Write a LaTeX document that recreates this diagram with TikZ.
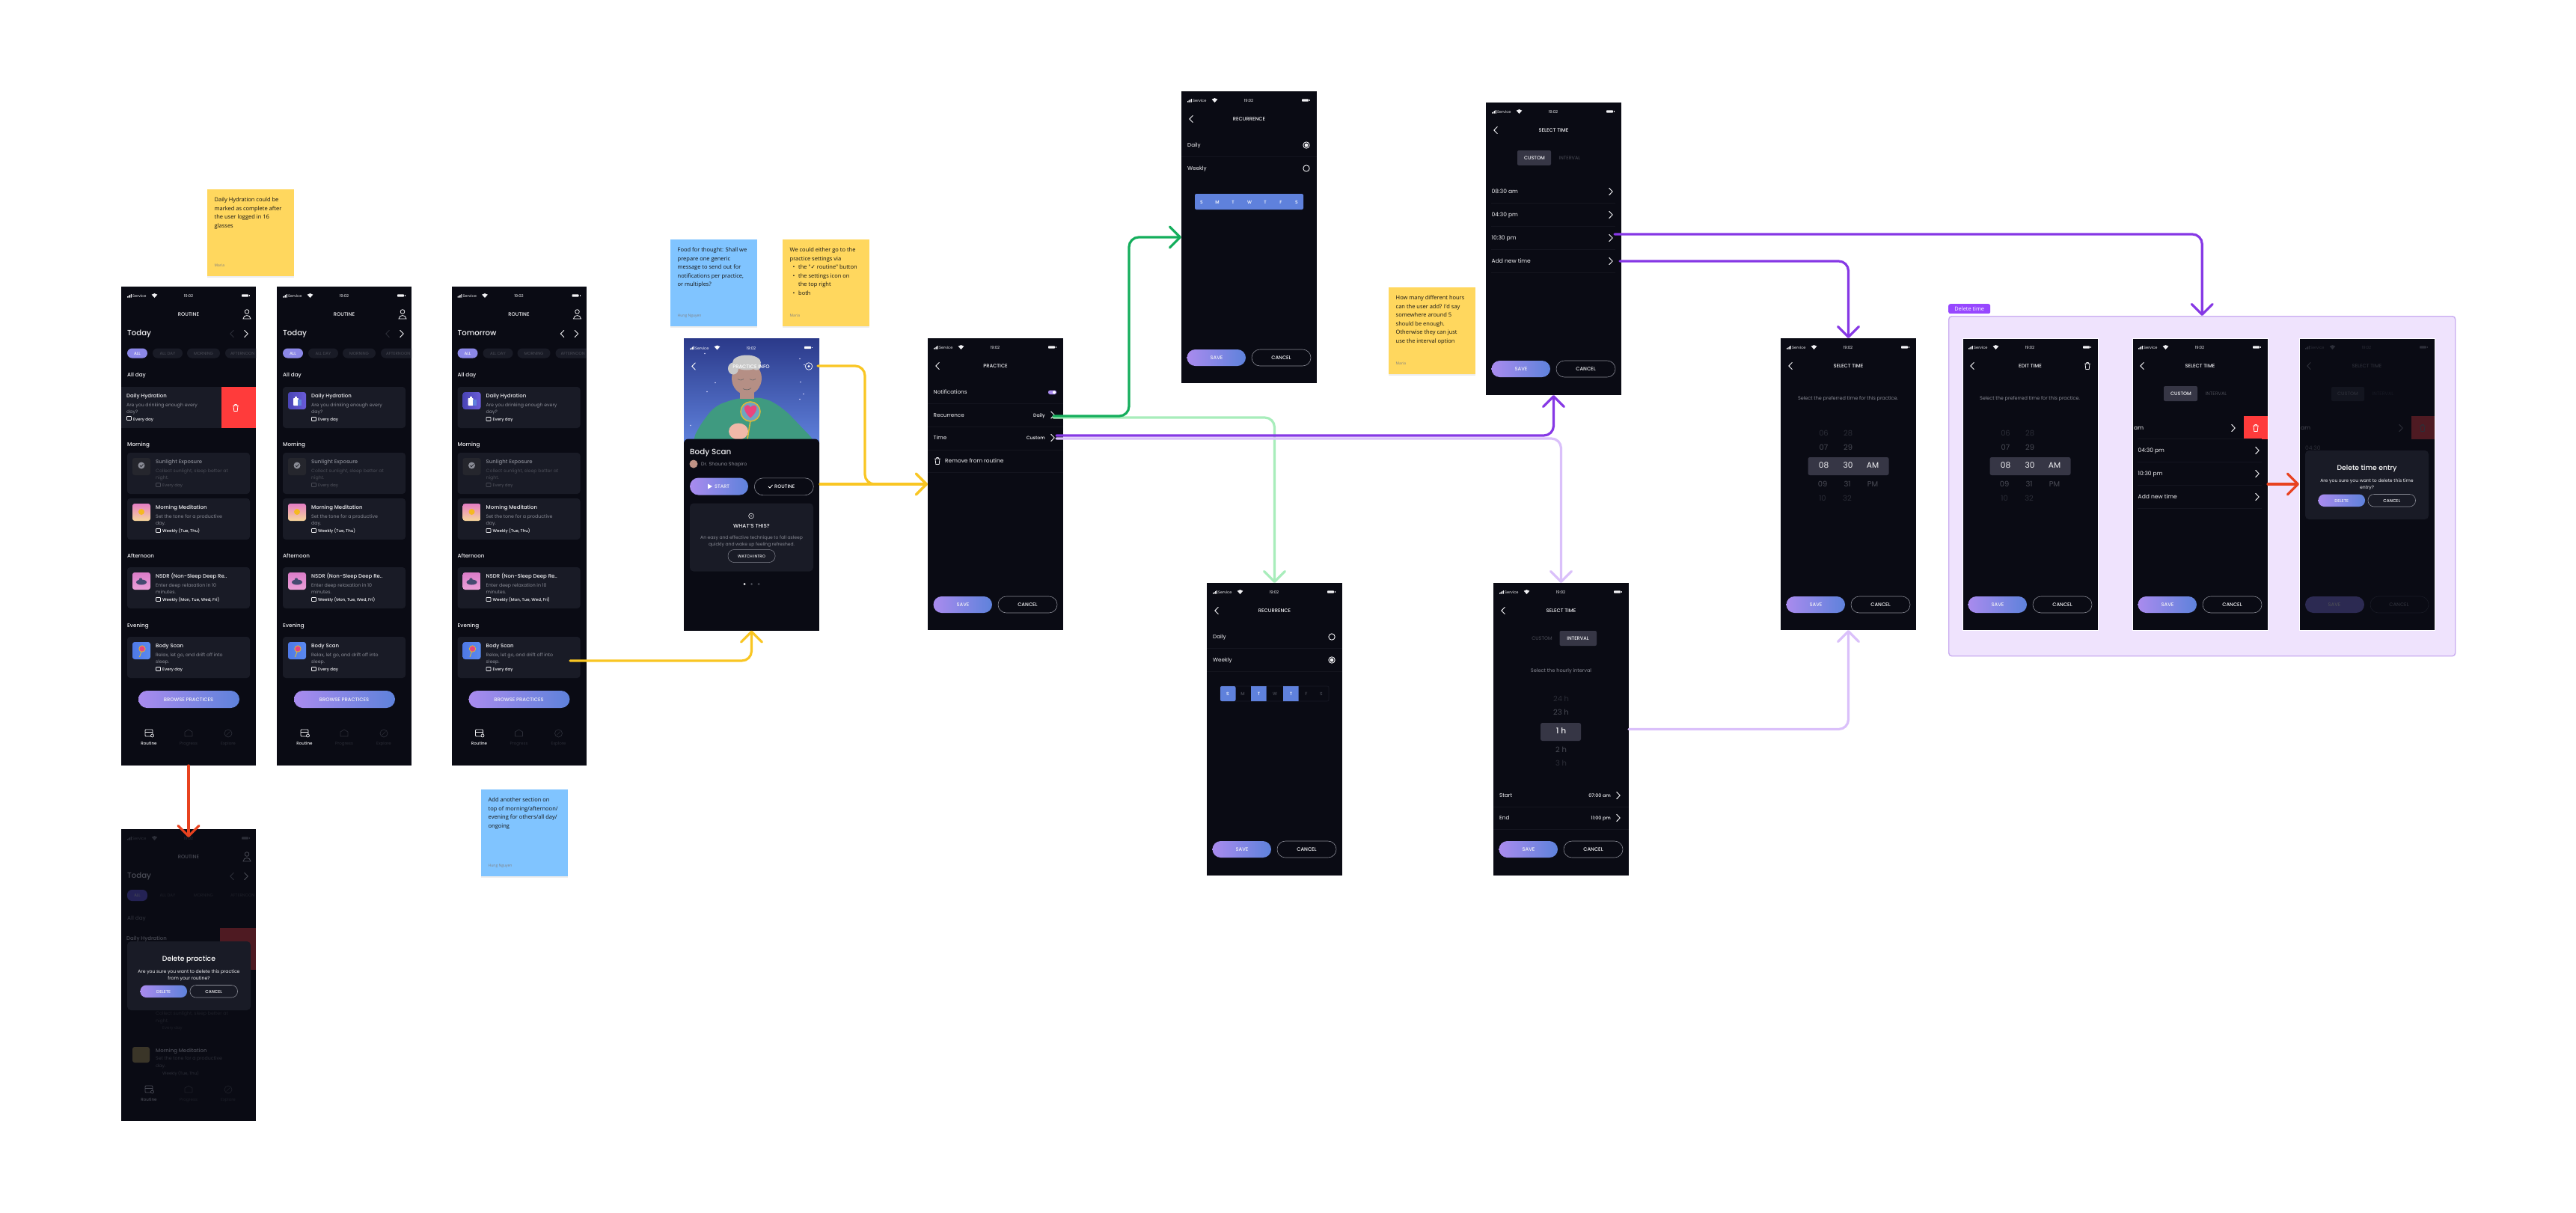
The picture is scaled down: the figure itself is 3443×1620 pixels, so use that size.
\documentclass[tikz,border=0pt]{standalone}
\usepackage{fontspec}
\setmainfont{Poppins}[BoldFont={Poppins Medium}]
\newfontfamily\notefont{Open Sans}
\newfontfamily\symfont{DejaVu Sans}
\usetikzlibrary{arrows.meta}
\definecolor{phonebg}{HTML}{0A0B14}
\definecolor{cardc}{HTML}{191B26}
\definecolor{tabc}{HTML}{363645}
\definecolor{txtw}{HTML}{F2F2F5}
\definecolor{txtg}{HTML}{8A8C96}
\definecolor{txtd}{HTML}{4A4C56}
\definecolor{txtx}{HTML}{2C2E38}
\definecolor{txty}{HTML}{1E2029}
\definecolor{divc}{HTML}{14151F}
\definecolor{gradl}{HTML}{A98BEE}
\definecolor{gradr}{HTML}{5E82DB}
\definecolor{redc}{HTML}{FF3B3B}
\definecolor{dimred}{HTML}{4E1A22}
\definecolor{stickyy}{HTML}{FFD75E}
\definecolor{stickyb}{HTML}{80C4FF}
\definecolor{strip}{HTML}{5F81DC}
\definecolor{groupf}{HTML}{EFE3FD}
\definecolor{groupb}{HTML}{C9ACF0}
\definecolor{tagc}{HTML}{9747FF}
\definecolor{cyellow}{HTML}{F9C623}
\definecolor{cred}{HTML}{E8421F}
\definecolor{cgreen}{HTML}{14AE5C}
\definecolor{clgreen}{HTML}{A8EDBB}
\definecolor{cpurple}{HTML}{8638E5}
\definecolor{clpurple}{HTML}{DAC0FA}
\definecolor{skytop}{HTML}{2B3A8A}
\definecolor{skin}{HTML}{B58F85}
\definecolor{hair}{HTML}{C9C9C9}
\definecolor{shirt}{HTML}{3F9A80}
\definecolor{handc}{HTML}{F0B8A8}
\definecolor{ringc}{HTML}{D8B93A}
\definecolor{lensc}{HTML}{6EA5C0}
\definecolor{heartc}{HTML}{E8457F}
\definecolor{hydl}{HTML}{4A45B5}
\definecolor{hydr}{HTML}{6A5CD8}
\definecolor{sunbg}{HTML}{25262D}
\definecolor{medt}{HTML}{E57EC3}
\definecolor{medb}{HTML}{F7D79A}
\definecolor{medsun}{HTML}{F5B921}
\definecolor{nst}{HTML}{DB7CC8}
\definecolor{nsb}{HTML}{EAA0D8}
\definecolor{nsl}{HTML}{454A70}
\definecolor{bol}{HTML}{4E79E6}
\definecolor{bor}{HTML}{5B8AF0}
\definecolor{dimmed}{HTML}{3A3528}
\definecolor{dimsave}{HTML}{2C2A52}
\newcounter{nid}
\newcommand\Tx[6]{\stepcounter{nid}\pgfmathparse{#4<7?#4*1.2:#4*1.08}\edef\fsz{\pgfmathresult}\node[anchor=#1,inner sep=0pt,text=#5,font=\fontsize{\fsz}{\fsz}\selectfont] (t\thenid) at (#2,#3) {#6};}
\newcommand\chevR[3]{\draw[#3,line width=1pt,line cap=round,line join=round] (#1-2.2,#2-4.5)--(#1+2.2,#2)--(#1-2.2,#2+4.5);}
\newcommand\chevL[3]{\draw[#3,line width=1pt,line cap=round,line join=round] (#1+2.2,#2-4.5)--(#1-2.2,#2)--(#1+2.2,#2+4.5);}
\newcommand\trashI[3]{\draw[#3,line width=.8pt,line join=round] (#1-3.6,#2-3)--(#1+3.6,#2-3) (#1-1.5,#2-3)--(#1-1.2,#2-4.6)--(#1+1.2,#2-4.6)--(#1+1.5,#2-3) (#1-3,#2-3)--(#1-2.2,#2+4.5)--(#1+2.2,#2+4.5)--(#1+3,#2-3);}
\newcommand\statusB[1]{%
 \fill[#1] (8,14.5) rectangle (9,13) (9.6,14.5) rectangle (10.6,12) (11.2,14.5) rectangle (12.2,11) (12.8,14.5) rectangle (13.8,10);
 \Tx{mid west}{15}{12}{4.2}{#1}{Service}
 \fill[#1] (44.5,15)--(40.7,10.7) .. controls (43,8.6) and (46,8.6) .. (48.3,10.7) --cycle;
 \Tx{mid}{90}{12}{4.4}{#1}{19:02}
 \fill[#1,rounded corners=.8pt] (161,10.3) rectangle (170,13.7);
 \fill[#1] (171,11.3) rectangle (171.6,12.7);}
\newcommand\saveB{%
 \shade[left color=gradl,right color=gradr,rounded corners=11pt] (7.5,345) rectangle (86,367);
 \Tx{mid}{47}{356}{5.6}{txtw}{\bfseries SAVE}
 \draw[txtg,line width=.6pt,rounded corners=11pt] (94,345) rectangle (173,367);
 \Tx{mid}{133.5}{356}{5.6}{txtw}{\bfseries CANCEL}}
\newcommand\phoneN[5]{\node[fill=phonebg,inner sep=0pt,outer sep=0pt,minimum width=#3,minimum height=#4,anchor=north west,#5] (#1) at (#2) {};}
\newcommand\navB[5]{% y icon, y label, c1, c2, unused
 \draw[#3,line width=.8pt,rounded corners=1pt] (32,#1-5) rectangle (42,#1+4);
 \draw[#3,line width=.8pt] (32,#1-2)--(42,#1-2);
 \draw[#3,fill=phonebg,line width=.7pt] (41.5,#1+3) circle[radius=2];
 \Tx{mid}{37}{#2}{4.6}{#3}{\bfseries Routine}
 \draw[#4,line width=.7pt,line join=round] (90,#1-5)--(95,#1-2)--(95,#1+4)--(85,#1+4)--(85,#1-2)--cycle;
 \Tx{mid}{90}{#2}{4.6}{#4}{Progress}
 \draw[#4,line width=.7pt] (143,#1) circle[radius=5];
 \draw[#4,line width=.6pt] (140.5,#1+2.5)--(145.5,#1-2.5);
 \Tx{mid}{143}{#2}{4.6}{#4}{Explore}}
\newcommand\personI[1]{\draw[#1,line width=.8pt] (168,33.5) circle[radius=2.8] (163,43) .. controls (163.5,37) and (172.5,37) .. (173,43) -- cycle;}
\newcommand\iconHyd[1]{\shade[left color=hydl,right color=hydr,rounded corners=3pt] (15,#1) rectangle (39,#1+23);
 \fill[white,rounded corners=.8pt] (22,#1+8) rectangle (29,#1+18); \fill[white] (24,#1+6) rectangle (27,#1+8); \fill[strip] (28,#1+10) rectangle (33,#1+18);}
\newcommand\iconSun[1]{\fill[sunbg,rounded corners=3pt] (15,#1) rectangle (39,#1+23);
 \fill[txtg] (27,#1+10) circle[radius=4.5]; \draw[sunbg,line width=.8pt] (25,#1+10)--(26.6,#1+11.6)--(29.5,#1+8.5);}
\newcommand\iconMed[1]{\shade[top color=medt,bottom color=medb,rounded corners=3pt] (15,#1) rectangle (39,#1+23);
 \fill[medsun] (27,#1+11) circle[radius=4];}
\newcommand\iconNs[1]{\shade[top color=nst,bottom color=nsb,rounded corners=3pt] (15,#1) rectangle (39,#1+23);
 \fill[nsl] (27,#1+13) ellipse[x radius=7,y radius=3.5]; \fill[nsl] (26,#1+9.5) circle[radius=2.2];}
\newcommand\iconBody[1]{\shade[left color=bol,right color=bor,rounded corners=3pt] (15,#1) rectangle (39,#1+23);
 \draw[ringc,line width=1pt] (24.5,#1+20)--(27,#1+13); \fill[heartc] (28,#1+9) circle[radius=4.2]; \draw[ringc,line width=.8pt] (28,#1+9) circle[radius=4.2];}
\newcommand\cardR[9]{% ytop, icon, tc, title, desc1, desc2, date, dc, datec
 \fill[cardc,rounded corners=4pt] (8,#1) rectangle (172,#1+55);
 #2{#1+7}
 \Tx{mid west}{46}{#1+12}{5.8}{#3}{\bfseries #4}
 \Tx{mid west}{46}{#1+24}{5.2}{#8}{#5}
 \Tx{mid west}{46}{#1+33}{5.2}{#8}{#6}
 \draw[#9,line width=.6pt,rounded corners=.6pt] (46.5,#1+40.5) rectangle (52.5,#1+45.5);
 \Tx{mid west}{55}{#1+43}{4.6}{#9}{\bfseries #7}}
\newcommand\routineTop[3]{% day, left chevron color, first card code
 \statusB{txtw}
 \Tx{mid}{90}{37}{5.6}{txtw}{\bfseries ROUTINE}
 \personI{txtw}
 \Tx{mid west}{8}{63}{9.4}{txtw}{\bfseries #1}
 \chevL{148}{63}{#2}
 \chevR{167}{63}{txtw}
 \fill[gradl!60!gradr,rounded corners=6.5pt] (8,82.5) rectangle (35,95.5);
 \Tx{mid}{21.5}{89}{4.6}{txtw}{\bfseries ALL}
 \fill[cardc,rounded corners=6.5pt] (42,82.5) rectangle (82,95.5);
 \Tx{mid}{62}{89}{4.6}{txtd}{ALL DAY}
 \fill[cardc,rounded corners=6.5pt] (88,82.5) rectangle (132,95.5);
 \Tx{mid}{110}{89}{4.6}{txtd}{MORNING}
 \begin{scope}\clip (0,0) rectangle (180,640);
 \fill[cardc,rounded corners=6.5pt] (139,82.5) rectangle (200,95.5);
 \Tx{mid west}{146}{89}{4.6}{txtd}{AFTERNOON}
 \end{scope}
 \Tx{mid west}{8}{118}{6}{txtw}{\bfseries All day}
 #3
 \Tx{mid west}{8}{211}{6}{txtw}{\bfseries Morning}
 \cardR{222}{\iconSun}{txtg}{Sunlight Exposure}{Collect sunlight, sleep better at}{night.}{Every day}{txtd}{txtd}
 \cardR{283}{\iconMed}{txtw}{Morning Meditation}{Set the tone for a productive}{day.}{Weekly (Tue, Thu)}{txtg}{txtw}
 \Tx{mid west}{8}{360}{6}{txtw}{\bfseries Afternoon}
 \cardR{375}{\iconNs}{txtw}{NSDR (Non-Sleep Deep Re..}{Enter deep relaxation in 10}{minutes.}{Weekly (Mon, Tue, Wed, Fri)}{txtg}{txtw}
 \Tx{mid west}{8}{452.5}{6}{txtw}{\bfseries Evening}
 \cardR{468}{\iconBody}{txtw}{Body Scan}{Relax, let go, and drift off into}{sleep.}{Every day}{txtg}{txtw}
 \shade[left color=gradl,right color=gradr,rounded corners=11.5pt] (23,540) rectangle (158,563);
 \Tx{mid}{90}{551.5}{5.6}{txtw}{\bfseries BROWSE PRACTICES}
 \navB{597}{610}{txtw}{txtx}{}}
\newcommand\sticky[6]{% name, x, y, color, text, author
 \fill[black!7] (#2,#3+2) rectangle (#2+116,#3+118);
 \node[fill=#4,inner sep=0pt,outer sep=0pt,minimum size=115.5pt,anchor=north west] (#1) at (#2,#3) {};
 \stepcounter{nid}\node[anchor=north west,inner sep=0pt,align=left,text=black!92,font=\notefont\fontsize{7.5}{11.6}\selectfont] (t\thenid) at (#2+9.5,#3+10.5) {#5};
 \stepcounter{nid}\node[anchor=mid west,inner sep=0pt,text=black!50,font=\notefont\fontsize{5}{5}\selectfont] (t\thenid) at (#2+9.5,#3+101) {#6};}
\newcommand\timelist[4]{% row1 x code ..
 #1
 \Tx{mid west}{7.5}{150}{6.3}{txtw}{04:30 pm}\chevR{167}{150}{txtw}
 \Tx{mid west}{7.5}{181}{6.3}{txtw}{10:30 pm}\chevR{167}{181}{txtw}
 \Tx{mid west}{7.5}{212}{6.3}{txtw}{Add new time}\chevR{167}{212}{txtw}
 \draw[divc,line width=.8pt] (7,134.5)--(173,134.5) (7,165.5)--(173,165.5) (7,196.5)--(173,196.5) (7,227.5)--(173,227.5);}
\newcommand\customtab{\fill[tabc,rounded corners=2pt] (42,64) rectangle (87,84);
 \Tx{mid}{65}{74}{5.4}{txtw}{\bfseries CUSTOM}
 \Tx{mid}{112}{74}{5.4}{txtd}{INTERVAL}}
\newcommand\wheelW{%
 \Tx{mid}{90}{80}{5.4}{txtg}{Select the preferred time for this practice.}
 \Tx{mid}{57.5}{128}{9.2}{txtx}{06}\Tx{mid}{90}{128}{9.2}{txtx}{28}
 \Tx{mid}{57.5}{147}{9.2}{txtd}{07}\Tx{mid}{90}{147}{9.2}{txtd}{29}
 \fill[tabc,rounded corners=2.5pt] (36.5,159) rectangle (144.5,183);
 \Tx{mid}{57.5}{171}{9.8}{txtw}{08}\Tx{mid}{90}{171}{9.8}{txtw}{30}\Tx{mid}{123}{171}{9.8}{txtw}{AM}
 \Tx{mid}{56}{196}{9.2}{txtd}{09}\Tx{mid}{89}{196}{9.2}{txtd}{31}\Tx{mid}{123}{196}{9.2}{txtd}{PM}
 \Tx{mid}{56}{215}{9.2}{txtx}{10}\Tx{mid}{89}{215}{9.2}{txtx}{32}}
\newcommand\dialogD[3]{% title, line1, line2
 \fill[cardc,rounded corners=5pt] (8,150) rectangle (173,242);
 \Tx{mid}{90.5}{173.5}{8.6}{white}{\bfseries #1}
 \Tx{mid}{90.5}{190}{5.1}{txtw}{#2}
 \Tx{mid}{90.5}{198.5}{5.1}{txtw}{#3}
 \shade[left color=gradl,right color=gradr,rounded corners=8pt] (25.5,208.5) rectangle (88,225);
 \Tx{mid}{56.7}{217}{4.8}{txtw}{\bfseries DELETE}
 \draw[txtg,line width=.6pt,rounded corners=8pt] (92,208.5) rectangle (155.5,225);
 \Tx{mid}{123.7}{217}{4.8}{txtw}{\bfseries CANCEL}}
\begin{document}
\begin{tikzpicture}[x=1pt,y=-1pt,
 conn/.style={line width=3.2pt,line cap=round,rounded corners=13pt,-{Straight Barb[length=14pt,width=28pt,round]}}]
\useasboundingbox (0,0) rectangle (3443,1620);
\fill[white] (0,0) rectangle (3443,1620);
% group frame
\node[fill=groupf,draw=groupb,line width=1.4pt,rounded corners=4pt,inner sep=0pt,minimum width=677,minimum height=454,anchor=north west] (group) at (2604,422) {};
\node[fill=tagc,rounded corners=2.5pt,inner sep=0pt,minimum width=56,minimum height=13,anchor=north west,text=white,font=\notefont\fontsize{7.4}{8}\selectfont] (grouptag) at (2604,406) {Delete time};
% stickies
\sticky{noteA}{277}{253}{stickyy}{Daily Hydration could be\\marked as complete after\\the user logged in 16\\glasses}{Maria}
\sticky{noteB}{643}{1055}{stickyb}{Add another section on\\top of morning/afternoon/\\evening for others/all day/\\ongoing}{Hung Nguyen}
\sticky{noteC}{896}{320}{stickyb}{Food for thought: Shall we\\prepare one generic\\message to send out for\\notifications per practice,\\or multiples?}{Hung Nguyen}
\sticky{noteD}{1046}{320}{stickyy}{We could either go to the\\practice settings via\\\makebox[11.5pt][l]{\hspace{4pt}•}the "{\symfont ✓} routine" button\\\makebox[11.5pt][l]{\hspace{4pt}•}the settings icon on\\\makebox[11.5pt][l]{}the top right\\\makebox[11.5pt][l]{\hspace{4pt}•}both}{Maria}
\sticky{noteE}{1856}{384}{stickyy}{How many different hours\\can the user add? I'd say\\somewhere around 5\\should be enough.\\Otherwise they can just\\use the interval option}{Maria}
% routine 1
\phoneN{rA}{162,383}{180}{640}{}
\begin{scope}[shift={(162,383)}]
\routineTop{Today}{txtx}{%
 \fill[cardc] (0,134) rectangle (134,189);
 \fill[redc] (134,134) rectangle (180,189);
 \fill[cardc,rounded corners=4pt] (125,134) rectangle (133,189);
 \Tx{mid west}{7}{146}{5.8}{txtw}{\bfseries Daily Hydration}
 \Tx{mid west}{7}{158}{5.2}{txtg}{Are you drinking enough every}
 \Tx{mid west}{7}{167}{5.2}{txtg}{day?}
 \draw[txtw,line width=.6pt,rounded corners=.6pt] (7.5,173.5) rectangle (13.5,178.5);
 \Tx{mid west}{16}{176.5}{4.6}{txtw}{\bfseries Every day}
 \trashI{153}{162}{white}}
\end{scope}
% routine 2
\phoneN{rB}{370,383}{180}{640}{}
\begin{scope}[shift={(370,383)}]
\routineTop{Today}{txtx}{\cardR{134}{\iconHyd}{txtw}{Daily Hydration}{Are you drinking enough every}{day?}{Every day}{txtg}{txtw}}
\end{scope}
% routine 3
\phoneN{rC}{603.5,383}{180}{640}{}
\begin{scope}[shift={(603.5,383)}]
\routineTop{Tomorrow}{txtw}{\cardR{134}{\iconHyd}{txtw}{Daily Hydration}{Are you drinking enough every}{day?}{Every day}{txtg}{txtw}}
\end{scope}
\coordinate (rcOut) at (762,883);
% delete practice
\phoneN{rD}{162,1108}{180}{390}{}
\begin{scope}[shift={(162,1108)}]
 \statusB{txtx}
 \Tx{mid}{90}{37}{5.6}{txtd}{\bfseries ROUTINE}
 \personI{txtd}
 \Tx{mid west}{8}{63}{9.4}{txtd}{\bfseries Today}
 \chevL{148}{63}{txtx}\chevR{167}{63}{txtd}
 \fill[hydl!40!phonebg,rounded corners=6.5pt] (8,81) rectangle (35,96);
 \Tx{mid}{21.5}{88}{4.6}{txtd}{ALL}
 \Tx{mid}{62}{88}{4.6}{txty}{ALL DAY}
 \Tx{mid}{110}{88}{4.6}{txty}{MORNING}
 \begin{scope}\clip (0,0) rectangle (180,390);
 \Tx{mid west}{146}{88}{4.6}{txty}{AFTERNOON}
 \end{scope}
 \Tx{mid west}{8}{119}{6}{txtx}{\bfseries All day}
 \fill[dimred] (132,132) rectangle (180,188);
 \Tx{mid west}{7}{146}{5.8}{txtd}{\bfseries Daily Hydration}
 \Tx{mid west}{46}{246}{5.2}{txty}{Collect sunlight, sleep better at}
 \Tx{mid west}{46}{256}{5.2}{txty}{night.}
 \Tx{mid west}{55}{265}{4.6}{txty}{Every day}
 \fill[dimmed,rounded corners=3pt] (15,291) rectangle (38,312);
 \Tx{mid west}{46}{296}{5.8}{txtd}{\bfseries Morning Meditation}
 \Tx{mid west}{46}{306}{5.2}{txtx}{Set the tone for a productive}
 \Tx{mid west}{46}{316}{5.2}{txtx}{day.}
 \Tx{mid west}{55}{326}{4.6}{txtx}{Weekly (Tue, Thu)}
 \navB{348}{361}{txtd}{txty}{}
 \dialogD{Delete practice}{Are you sure you want to delete this practice}{from your routine?}
\end{scope}
% body scan
\phoneN{pI}{914,452.5}{181}{390}{}
\begin{scope}[shift={(914,452.5)}]
 \begin{scope}
 \clip (0,0) rectangle (181,140);
 \shade[top color=skytop,bottom color=strip] (0,0) rectangle (181,140);
 \foreach \sx/\sy in {28/20,42/59,31/71,9/116,161/35,160/74,155/81,155/27,156/58}{\fill[white!85!blue] (\sx,\sy) circle[radius=.9];}
 \fill[shirt,rounded corners=12pt] (10,140)--(20,118)--(41,90)--(73,79)--(109,79)--(134,94)--(178,140)--cycle;
 \fill[skin] (75,65) rectangle (94,80);
 \fill[skin] (84,53) ellipse[x radius=20,y radius=22];
 \fill[hair] (84,32) ellipse[x radius=19,y radius=10] (66,40) ellipse[x radius=7,y radius=8] (97,36) ellipse[x radius=6,y radius=6];
 \draw[black!60,line width=.6pt] (72,54) .. controls (75,56) and (78,56) .. (80,54) (88,54) .. controls (91,56) and (94,56) .. (96,54) (79,67) .. controls (83,69) and (87,69) .. (90,66);
 \draw[ringc,line width=1.6pt] (89,110)--(85,134);
 \fill[handc] (73,124) ellipse[x radius=13,y radius=11];
 \fill[lensc] (89,97.5) circle[radius=13];
 \draw[ringc,line width=1.6pt] (89,97.5) circle[radius=13];
 \fill[heartc] (89,106) .. controls (80,98) and (79,90) .. (84,89) .. controls (87,88) and (89,91) .. (89,92) .. controls (90,90) and (94,88) .. (96,90) .. controls (99,92) and (97,99) .. (89,106) --cycle;
 \end{scope}
 \statusB{white}
 \chevL{13}{37}{white}
 \Tx{mid}{90}{37}{5.6}{white}{\bfseries PRACTICE INFO}
 \draw[white,line width=.7pt] (167,37) circle[radius=4.8];
 \fill[white] (167,37) circle[radius=1.6];
 \fill[phonebg,rounded corners=6pt] (0,134) rectangle (181,200);
 \fill[phonebg] (0,145) rectangle (181,390);
 \Tx{mid west}{8}{152}{9.6}{txtw}{\bfseries Body Scan}
 \fill[handc!80!black] (13,167.5) circle[radius=5.5];
 \Tx{mid west}{23}{167.5}{5.3}{txtg}{Dr. Shauna Shapiro}
 \shade[left color=gradl,right color=gradr,rounded corners=11.5pt] (8,186) rectangle (86,209);
 \fill[white] (32,194)--(38,197.5)--(32,201)--cycle;
 \Tx{mid west}{41}{197.5}{5.4}{txtw}{\bfseries START}
 \node[draw=txtg,line width=.6pt,rounded corners=11.5pt,inner sep=0pt,minimum width=79,minimum height=23,anchor=north west] (routinebtn) at (94,186) {};
 \draw[white,line width=.8pt] (113,197.5)--(115,199.5)--(118.5,195.5);
 \Tx{mid west}{121}{197.5}{5.4}{txtw}{\bfseries ROUTINE}
 \fill[cardc,rounded corners=5pt] (8,220) rectangle (173,311);
 \draw[txtw,line width=.6pt] (90,237) circle[radius=3.4]; \fill[txtw] (90,237) circle[radius=.9];
 \Tx{mid}{90.5}{250}{6}{txtw}{\bfseries WHAT'S THIS?}
 \Tx{mid}{90.5}{265}{5}{txtg}{An easy and effective technique to fall asleep}
 \Tx{mid}{90.5}{274}{5}{txtg}{quickly and wake up feeling refreshed.}
 \draw[txtg,line width=.5pt,rounded corners=8pt] (59,282) rectangle (122,299);
 \Tx{mid}{90.5}{290.5}{4.4}{txtw}{\bfseries WATCH INTRO}
 \fill[white] (81,328) circle[radius=1.5];
 \fill[txtd] (90.5,328) circle[radius=1.5] (100,328) circle[radius=1.5];
\end{scope}
\coordinate (gearOut) at (1093,489);
\coordinate (gearMid) at (1156,570);
% practice
\phoneN{pS}{1240,452}{181}{390}{}
\begin{scope}[shift={(1240,452)}]
 \statusB{txtw}\chevL{13}{37}{txtw}
 \Tx{mid}{90.5}{37}{5.6}{txtw}{\bfseries PRACTICE}
 \Tx{mid west}{7.5}{72}{6}{txtw}{Notifications}
 \fill[gradl,rounded corners=2.5pt] (161,69.5) rectangle (172,75); \fill[white] (169,72.2) circle[radius=2];
 \Tx{mid west}{7.5}{102.5}{6}{txtw}{Recurrence}
 \Tx{mid east}{157}{102.5}{5.2}{txtw}{\bfseries Daily}\chevR{167}{102.5}{txtw}
 \Tx{mid west}{7.5}{133}{6}{txtw}{Time}
 \Tx{mid east}{157}{133}{5.2}{txtw}{\bfseries Custom}\chevR{167}{133}{txtw}
 \trashI{13}{164}{txtw}
 \Tx{mid west}{23}{164}{6.2}{txtw}{Remove from routine}
 \draw[divc,line width=.8pt] (0,87.5)--(181,87.5) (0,118)--(181,118) (0,149)--(181,149) (0,179.5)--(181,179.5);
 \saveB
\end{scope}
\coordinate (dailyOut) at (1408,556);
\coordinate (dailyOutB) at (1408,558);
\coordinate (dailyMid) at (1509,440);
\coordinate (timeOut) at (1412,582);
\coordinate (timeOutB) at (1412,586);
% recurrence A
\phoneN{recA}{1579,122}{181}{390}{}
\begin{scope}[shift={(1579,122)}]
 \statusB{txtw}\chevL{13}{37}{txtw}
 \Tx{mid}{90.5}{37}{5.6}{txtw}{\bfseries RECURRENCE}
 \Tx{mid west}{8}{72}{6}{txtw}{Daily}
 \draw[txtw,line width=.9pt] (167,72) circle[radius=4.2]; \fill[txtw] (167,72) circle[radius=2.4];
 \Tx{mid west}{8}{103}{6}{txtw}{Weekly}
 \draw[txtw,line width=.9pt] (167,103) circle[radius=4.2];
 \draw[divc,line width=.8pt] (0,87.5)--(181,87.5);
 \fill[strip,rounded corners=2pt] (18,137) rectangle (163,158);
 \foreach \dx/\dd in {27/S,48/M,69/T,91/W,112/T,133/F,154/S}{\Tx{mid}{\dx}{147.5}{5}{white}{\bfseries \dd}}
 \saveB
\end{scope}
% select time A
\phoneN{selA}{1986,137}{181}{391}{}
\begin{scope}[shift={(1986,137)}]
 \statusB{txtw}\chevL{13}{37}{txtw}
 \Tx{mid}{90.5}{37}{5.6}{txtw}{\bfseries SELECT TIME}
 \customtab
 \timelist{\Tx{mid west}{7.5}{119}{6.3}{txtw}{08:30 am}\chevR{167}{119}{txtw}}{}{}{}
 \saveB
\end{scope}
\coordinate (tenOut) at (2158,313);
\coordinate (addOut) at (2165,349);
% recurrence B
\phoneN{recB}{1613,779}{181}{391}{}
\begin{scope}[shift={(1613,779)}]
 \statusB{txtw}\chevL{13}{37}{txtw}
 \Tx{mid}{90.5}{37}{5.6}{txtw}{\bfseries RECURRENCE}
 \Tx{mid west}{8}{72}{6}{txtw}{Daily}
 \draw[txtw,line width=.9pt] (167,72) circle[radius=4.2];
 \Tx{mid west}{8}{103}{6}{txtw}{Weekly}
 \draw[txtw,line width=.9pt] (167,103) circle[radius=4.2]; \fill[txtw] (167,103) circle[radius=2.4];
 \draw[divc,line width=.8pt] (0,87.5)--(181,87.5) (0,118)--(181,118);
 \draw[cardc,line width=.6pt,rounded corners=2pt] (18,138) rectangle (163,158);
 \fill[strip,rounded corners=2pt] (18,138) rectangle (38.5,158);
 \fill[strip] (59,138) rectangle (79.5,158) (102,138) rectangle (122.5,158);
 \foreach \dx/\dd/\dc in {28/S/white,48/M/txtd,69.5/T/white,91/W/txtd,112.5/T/white,133/F/txtd,153/S/txtd}{\Tx{mid}{\dx}{148}{5}{\dc}{\bfseries \dd}}
 \saveB
\end{scope}
% interval
\phoneN{sInt}{1996,779}{181}{391}{}
\begin{scope}[shift={(1996,779)}]
 \statusB{txtw}\chevL{13}{37}{txtw}
 \Tx{mid}{90.5}{37}{5.6}{txtw}{\bfseries SELECT TIME}
 \Tx{mid}{65}{74}{5.4}{txtd}{CUSTOM}
 \fill[tabc,rounded corners=2pt] (88.5,64) rectangle (138,84);
 \Tx{mid}{113}{74}{5.4}{txtw}{\bfseries INTERVAL}
 \Tx{mid}{90.5}{117}{5.5}{txtg}{Select the hourly interval}
 \Tx{mid}{90.5}{156}{9.2}{txtx}{24 h}
 \Tx{mid}{90.5}{174}{9.2}{txtd}{23 h}
 \fill[tabc,rounded corners=2.5pt] (63,187) rectangle (117,211);
 \Tx{mid}{90.5}{199}{9.8}{txtw}{\bfseries 1 h}
 \Tx{mid}{90.5}{224}{9.2}{txtd}{2 h}
 \Tx{mid}{90.5}{242}{9.2}{txtx}{3 h}
 \Tx{mid west}{8}{284}{6}{txtw}{Start}
 \Tx{mid east}{157}{284}{5.2}{txtw}{\bfseries 07:00 am}\chevR{167}{284}{txtw}
 \Tx{mid west}{8}{314}{6}{txtw}{End}
 \Tx{mid east}{157}{314}{5.2}{txtw}{\bfseries 11:00 pm}\chevR{167}{314}{txtw}
 \draw[divc,line width=.8pt] (0,299)--(181,299) (0,329)--(181,329);
 \saveB
\end{scope}
% select time C
\phoneN{selC}{2380,452}{181}{390}{}
\begin{scope}[shift={(2380,452)}]
 \statusB{txtw}\chevL{13}{37}{txtw}
 \Tx{mid}{90.5}{37}{5.6}{txtw}{\bfseries SELECT TIME}
 \wheelW\saveB
\end{scope}
% edit time
\phoneN{gA}{2623,452}{181}{390}{draw=white,line width=1pt}
\begin{scope}[shift={(2623,452)}]
 \statusB{txtw}\chevL{13}{37}{txtw}
 \Tx{mid}{90.5}{37}{5.6}{txtw}{\bfseries EDIT TIME}
 \trashI{167}{37}{txtw}
 \wheelW\saveB
\end{scope}
% swipe
\phoneN{gB}{2850,452}{181}{390}{draw=white,line width=1pt}
\begin{scope}[shift={(2850,452)}]
 \statusB{txtw}\chevL{13}{37}{txtw}
 \Tx{mid}{90.5}{37}{5.6}{txtw}{\bfseries SELECT TIME}
 \customtab
 \fill[redc] (149,104) rectangle (181,135);
 \trashI{165}{120}{white}
 \timelist{\Tx{mid west}{2}{120}{6.3}{txtw}{am}\chevR{135}{120}{txtw}}{}{}{}
 \saveB
\end{scope}
% delete time
\phoneN{gC}{3073,452}{181}{390}{draw=white,line width=1pt}
\begin{scope}[shift={(3073,452)}]
 \statusB{txtx}\chevL{13}{37}{txtx}
 \Tx{mid}{90.5}{37}{5.6}{txtx}{\bfseries SELECT TIME}
 \fill[cardc!60!phonebg,rounded corners=2pt] (43,65) rectangle (87,84);
 \Tx{mid}{65}{74}{5.4}{txtx}{\bfseries CUSTOM}
 \Tx{mid}{112}{74}{5.4}{cardc}{INTERVAL}
 \fill[dimred] (150,104) rectangle (181,135);
 \trashI{165}{120}{txtx}
 \Tx{mid west}{2}{120}{6.3}{txtd}{am}\chevR{136}{120}{txtx}
 \Tx{mid west}{8}{147}{6.3}{txtx}{04:30}
 \dialogD{Delete time entry}{Are you sure you want to delete this time}{entry?}
 \fill[dimsave,rounded corners=11pt] (8,345) rectangle (87,367);
 \Tx{mid}{47}{356}{5.6}{txtd}{\bfseries SAVE}
 \draw[cardc,line width=.6pt,rounded corners=11pt] (95,345) rectangle (173,367);
 \Tx{mid}{133.5}{356}{5.6}{txtx}{\bfseries CANCEL}
\end{scope}
\coordinate (redTip) at (252,1119);
% connectors
\draw[conn,clgreen] (dailyOutB) -| (recB.north);
\draw[conn,clpurple] (timeOutB) -| (sInt.north);
\draw[conn,clpurple] (sInt.east) -| (selC.south);
\draw[conn,cgreen] (dailyOut) -| (dailyMid) |- (recA.west);
\draw[conn,cpurple] (timeOut) -| (selA.south);
\draw[conn,cpurple] (tenOut) -| (group.north);
\draw[conn,cpurple] (addOut) -| (selC.north);
\draw[conn,cyellow] (gearOut) -| (gearMid) |- (pS.west);
\coordinate (rbOut) at (1096,647);
\draw[conn,cyellow] (rbOut) -- (pS.west);
\draw[conn,cyellow] (rcOut) -| (pI.south);
\draw[conn,cred] (rA.south) -- (redTip);
\draw[conn,cred] (gB.east) -- (gC.west);
\end{tikzpicture}
\end{document}
